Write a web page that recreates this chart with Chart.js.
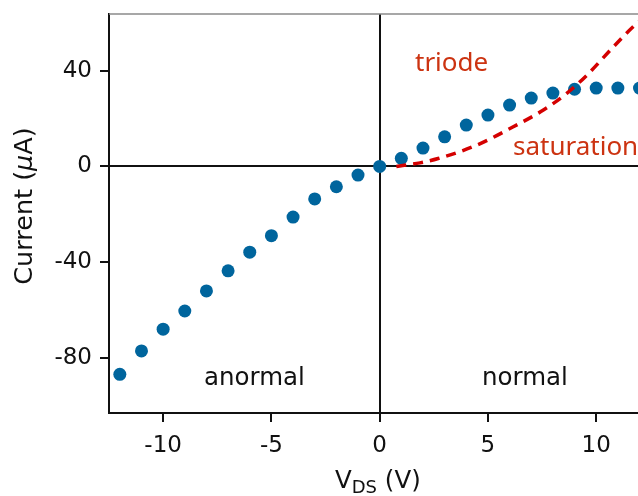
<!DOCTYPE html>
<html>
<head>
<meta charset="utf-8">
<script src="https://cdn.jsdelivr.net/npm/chart.js@4"></script>
<style>
  html, body { margin: 0; padding: 0; background: #fff; }
  #wrap { width: 638px; height: 496px; position: relative; }
</style>
</head>
<body>
<div id="wrap"><canvas id="c" width="638" height="496"></canvas></div>
<script>
// ---- data ----
const vds = [-12, -11, -10, -9, -8, -7, -6, -5, -4, -3, -2, -1, 0, 1, 2, 3, 4, 5, 6, 7, 8, 9, 10, 11, 12];
const current = [-87.0, -77.2, -68.1, -60.5, -52.1, -43.7, -35.9, -29.0, -21.2, -13.6, -8.5, -3.6, 0,
                 3.4, 7.7, 12.4, 17.3, 21.5, 25.7, 28.6, 30.7, 32.3, 32.8, 32.8, 32.8];
const satV = [0.77, 1.86, 2.7, 4.48, 6.17, 7.56, 8.64, 9.57, 10.8, 11.72, 12.3];
const satI = [0, 1.5, 3.3, 8.9, 16.6, 23.6, 30.6, 38.2, 50.1, 58.6, 63.0];
const xTicks = [-10, -5, 0, 5, 10];
const yTicks = [-80, -40, 0, 40];
const xLabel = ['V', 'DS', ' (V)'];
const yLabel = ['Current (', 'μ', 'A)'];
const regionLabels = { triode: 'triode', saturation: 'saturation', anormal: 'anormal', normal: 'normal' };

const FONT = '"DejaVu Sans", sans-serif';
const RED_TXT = '#cc3311';

const textPlugin = {
  id: 'texts',
  afterDraw(chart) {
    const ctx = chart.ctx;
    const a = chart.chartArea;
    ctx.save();
    // top frame line
    ctx.strokeStyle = '#8a8a8a';
    ctx.lineWidth = 1.5;
    ctx.beginPath();
    ctx.moveTo(a.left, a.top);
    ctx.lineTo(a.right, a.top);
    ctx.stroke();

    ctx.textBaseline = 'alphabetic';
    // region labels
    ctx.fillStyle = RED_TXT;
    ctx.font = '26px "Noto Sans", sans-serif';
    ctx.textAlign = 'left';
    ctx.fillText(regionLabels.triode, 415, 71);
    ctx.fillText(regionLabels.saturation, 513, 155);
    ctx.fillStyle = '#111';
    ctx.font = '24.5px ' + FONT;
    ctx.fillText(regionLabels.anormal, 204, 385);
    ctx.fillText(regionLabels.normal, 482, 385);

    // x axis title with subscript
    ctx.fillStyle = '#111';
    ctx.font = '24.5px ' + FONT;
    let x = 335;
    const by = 488;
    ctx.fillText(xLabel[0], x, by);
    x += ctx.measureText(xLabel[0]).width;
    ctx.font = '18px ' + FONT;
    ctx.fillText(xLabel[1], x, by + 5);
    x += ctx.measureText(xLabel[1]).width;
    ctx.font = '24.5px ' + FONT;
    ctx.fillText(xLabel[2], x, by);

    // y axis title, rotated, with italic mu
    ctx.translate(32, 206);
    ctx.rotate(-Math.PI / 2);
    const parts = [
      { t: yLabel[0], f: '25.5px ' + FONT },
      { t: yLabel[1], f: 'italic 25.5px ' + FONT },
      { t: yLabel[2], f: '25.5px ' + FONT }
    ];
    let total = 0;
    parts.forEach(p => { ctx.font = p.f; p.w = ctx.measureText(p.t).width; total += p.w; });
    let px = -total / 2;
    parts.forEach(p => { ctx.font = p.f; ctx.fillText(p.t, px, 0); px += p.w; });
    ctx.restore();
  }
};

const zeroColor = ctx => (ctx.tick && ctx.tick.value === 0) ? '#111' : 'rgba(0,0,0,0)';

new Chart(document.getElementById('c'), {
  type: 'scatter',
  data: {
    datasets: [
      {
        label: 'saturation',
        data: satV.map((v, i) => ({ x: v, y: satI[i] })),
        showLine: true,
        borderColor: '#d40000',
        borderWidth: 3.5,
        borderDash: [10, 7],
        pointRadius: 0,
        cubicInterpolationMode: 'monotone',
        fill: false,
        order: 0
      },
      {
        label: 'current',
        data: vds.map((v, i) => ({ x: v, y: current[i] })),
        showLine: false,
        pointRadius: 6.5,
        pointHoverRadius: 6.5,
        pointBackgroundColor: '#00659d',
        pointBorderWidth: 0,
        borderColor: '#00659d',
        order: 1
      }
    ]
  },
  options: {
    responsive: false,
    animation: false,
    devicePixelRatio: 1,
    layout: { autoPadding: false, padding: { top: 14, left: 0, right: 0, bottom: 0 } },
    plugins: { legend: { display: false }, tooltip: { enabled: false } },
    scales: {
      x: {
        type: 'linear',
        min: -12.5,
        max: 11.93,
        afterBuildTicks: s => { s.ticks = xTicks.map(v => ({ value: v })); },
        afterFit: s => { s.height = 83; s.paddingLeft = 0; s.paddingRight = 0; },
        border: { color: '#111', width: 2 },
        grid: { color: zeroColor, lineWidth: 2, drawTicks: true, tickLength: 9, tickColor: '#111', tickWidth: 2 },
        ticks: { color: '#111', font: { family: FONT, size: 23 }, padding: 10, maxRotation: 0, autoSkip: false }
      },
      y: {
        type: 'linear',
        min: -103.2,
        max: 63.8,
        afterBuildTicks: s => { s.ticks = yTicks.map(v => ({ value: v })); },
        afterFit: s => { s.width = 109; s.paddingTop = 0; s.paddingBottom = 0; },
        border: { color: '#111', width: 2 },
        grid: { color: zeroColor, lineWidth: 2, drawTicks: true, tickLength: 9, tickColor: '#111', tickWidth: 2 },
        ticks: { color: '#111', font: { family: FONT, size: 23 }, padding: 8, autoSkip: false }
      }
    }
  },
  plugins: [textPlugin]
});
</script>
</body>
</html>
